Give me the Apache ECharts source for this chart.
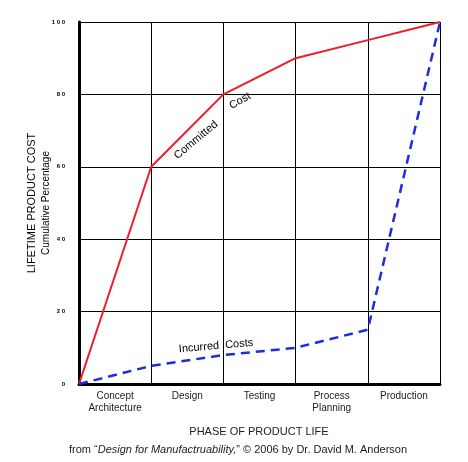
<!DOCTYPE html>
<html>
<head>
<meta charset="utf-8">
<script src="https://cdn.jsdelivr.net/npm/echarts@6/dist/echarts.min.js"></script>
<style>html,body{margin:0;padding:0;background:#fff}#main{width:468px;height:462px}</style>
</head>
<body>
<div id="main"></div>
<script>
// phases and cumulative cost percentages
const phases = ['Concept\nArchitecture', 'Design', 'Testing', 'Process\nPlanning', 'Production'];
const phaseEdges = [0, 1, 2, 3, 4, 5];
const committed = [0, 60, 80, 90, 95, 100];
const incurred = [0, 5, 8, 10, 15, 100];
const yTicks = [0, 20, 40, 60, 80, 100];

const chart = echarts.init(document.getElementById('main'));
const font = 'Arial, "Liberation Sans", sans-serif';

chart.setOption({
  animation: false,
  grid: { left: 79, right: 28, top: 22, bottom: 78 },
  xAxis: [{
    type: 'value', min: 0, max: 5, interval: 1,
    axisLine: { lineStyle: { color: '#000', width: 3 } },
    axisTick: { show: false },
    axisLabel: { show: false },
    splitLine: { lineStyle: { color: '#000', width: 1 } }
  }, {
    type: 'category', data: phases, position: 'bottom', boundaryGap: true,
    axisLine: { show: false }, axisTick: { show: false },
    axisLabel: { color: '#222', fontSize: 10, fontFamily: font, lineHeight: 12, margin: 6 }
  }],
  yAxis: {
    type: 'value', min: 0, max: 100, interval: 20,
    axisLine: { show: true, lineStyle: { color: '#000', width: 3 } },
    axisTick: { show: false },
    axisLabel: { fontSize: 6, fontWeight: 'bold', color: '#000', margin: 14,
      formatter: v => String(v).split('').join(' ') },
    splitLine: { lineStyle: { color: '#000', width: 1 } }
  },
  series: [{
    type: 'line', xAxisIndex: 0, symbol: 'none',
    data: phaseEdges.map((x, i) => [x, committed[i]]),
    lineStyle: { color: '#ee1c24', width: 2 }
  }, {
    type: 'line', xAxisIndex: 0, symbol: 'none',
    data: phaseEdges.map((x, i) => [x, incurred[i]]),
    lineStyle: { color: '#1c2de0', width: 2.5, type: [9, 6] }
  }],
  graphic: [
    { type: 'text', x: 196, y: 140, rotation: 40 * Math.PI / 180,
      style: { text: 'Committed', font: '11px ' + font, fill: '#000', align: 'center', verticalAlign: 'middle' } },
    { type: 'text', x: 240, y: 101, rotation: 30 * Math.PI / 180,
      style: { text: 'Cost', font: '11px ' + font, fill: '#000', align: 'center', verticalAlign: 'middle' } },
    { type: 'text', x: 216, y: 346, rotation: 5 * Math.PI / 180,
      style: { text: 'Incurred  Costs', font: '11px ' + font, fill: '#000', align: 'center', verticalAlign: 'middle' } },
    { type: 'text', x: 32, y: 203, rotation: Math.PI / 2,
      style: { text: 'LIFETIME PRODUCT COST', font: '11px ' + font, fill: '#000', align: 'center', verticalAlign: 'middle' } },
    { type: 'text', x: 46, y: 203, rotation: Math.PI / 2,
      style: { text: 'Cumulative Percentage', font: '10px ' + font, fill: '#000', align: 'center', verticalAlign: 'middle' } },
    { type: 'text', x: 259, y: 432,
      style: { text: 'PHASE OF PRODUCT LIFE', font: '11px ' + font, fill: '#222', align: 'center', verticalAlign: 'middle' } },
    { type: 'text', x: 69, y: 450,
      style: { rich: { n: { font: '11px ' + font, fill: '#222' }, i: { font: 'italic 11px ' + font, fill: '#222' } },
        text: '{n|from \u201c}{i|Design for Manufactruability,}{n|\u201d \u00a9 2006 by Dr. David M. Anderson}',
        verticalAlign: 'middle' } }
  ]
});
</script>
</body>
</html>
